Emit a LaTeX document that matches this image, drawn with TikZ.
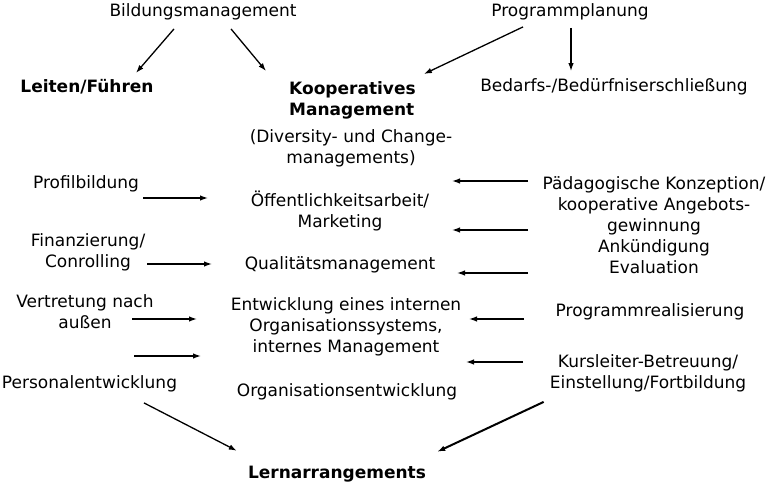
\documentclass[tikz,border=0pt]{standalone}
\usepackage{fontspec}
\setmainfont{DejaVu Sans}
\usetikzlibrary{arrows.meta}

\begin{document}
\begin{tikzpicture}[%
  x=1pt, y=-1pt,
  every node/.style={inner sep=0pt, align=center, font=\fontsize{17}{21}\selectfont},
  head/.style={font=\fontsize{17}{21}\selectfont\bfseries},
  arr/.style={line width=1.3pt, -{Latex[length=8pt,width=5.5pt]}},
  thick arr/.style={arr, line width=2pt}]
\useasboundingbox (0,0) rectangle (768,487);
% top row
\node (bild) at (203,12) {Bildungsmanagement};
\node (prog) at (570,12) {Programmplanung};
\node[head] (leiten) at (87,87) {Leiten/Führen};
\node[head, anchor=west, align=left] (koop) at (289,100) {Kooperatives\\Management};
\node (bedarf) at (614,87) {Bedarfs-/Bedürfniserschließung};
% middle column
\node (div) at (351,148) {(Diversity- und Change-\\managements)};
\node (oeff) at (340,211) {Öffentlichkeitsarbeit/\\Marketing};
\node (qual) at (340,265) {Qualitätsmanagement};
\node (entw) at (346,327) {Entwicklung eines internen\\Organisationssystems,\\internes Management};
\node (orgent) at (347,392) {Organisationsentwicklung};
% left column
\node (profil) at (86,184) {Profilbildung};
\node (finanz) at (88,252.5) {Finanzierung/\\Conrolling};
\node (vertr) at (85,311.5) {Vertretung nach\\außen};
\node (pers) at (89.5,384) {Personalentwicklung};
% right column
\node (paed) at (654,225.5) {Pädagogische Konzeption/\\kooperative Angebots-\\gewinnung\\Ankündigung\\Evaluation};
\node (real) at (650,312) {Programmrealisierung};
\node (kurs) at (648,373) {Kursleiter-Betreuung/\\Einstellung/Fortbildung};
% bottom
\node[head] (lern) at (337,474) {Lernarrangements};

% arrows from the top
\draw[arr] ([shift={(-29,8.5)}]bild.south) -- ([shift={(49,-6.5)}]leiten.north);
\draw[arr] ([shift={(28,8.5)}]bild.south) -- ([shift={(-23,-10)}]koop.north west);
\draw[arr] ([shift={(-47,6.5)}]prog.south) -- ([shift={(8,-7)}]koop.north east);
\draw[arr] ([shift={(1,7.5)}]prog.south) -- ([shift={(-43,-7.5)}]bedarf.north);

% arrows from the left
\coordinate (la1) at (143,198);  \coordinate (lb1) at (208,198);
\coordinate (la2) at (147,264);  \coordinate (lb2) at (212,264);
\coordinate (la3) at (132,319);  \coordinate (lb3) at (197,319);
\coordinate (la4) at (134,356);  \coordinate (lb4) at (201,356);
\draw[arr] (la1) -- (lb1);
\draw[arr] (la2) -- (lb2);
\draw[arr] (la3) -- (lb3);
\draw[arr] (la4) -- (lb4);

% arrows from the right
\coordinate (ra1) at (528,181);  \coordinate (rb1) at (452,181);
\coordinate (ra2) at (528,230);  \coordinate (rb2) at (452,230);
\coordinate (ra3) at (528,273);  \coordinate (rb3) at (457,273);
\coordinate (ra4) at (524,319);  \coordinate (rb4) at (469,319);
\coordinate (ra5) at (523,362);  \coordinate (rb5) at (466,362);
\draw[arr] (ra1) -- (rb1);
\draw[arr] (ra2) -- (rb2);
\draw[arr] (ra3) -- (rb3);
\draw[arr] (ra4) -- (rb4);
\draw[arr] (ra5) -- (rb5);

% arrows to the bottom
\draw[arr] ([shift={(54.5,10.5)}]pers.south) -- ([shift={(-11,-15)}]lern.north west);
\draw[thick arr] ([shift={(-6,10)}]kurs.south west) -- ([shift={(11,-14)}]lern.north east);
\end{tikzpicture}
\end{document}
